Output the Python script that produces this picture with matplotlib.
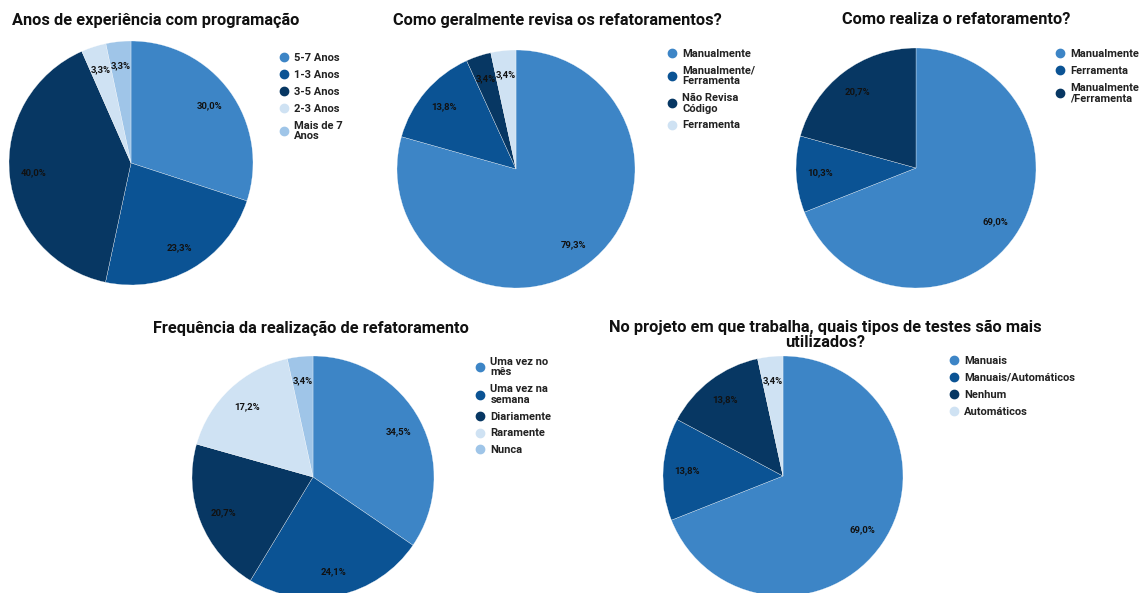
import matplotlib.pyplot as plt
from matplotlib.lines import Line2D

plt.rcParams['font.family'] = ['Roboto', 'DejaVu Sans']

W, H = 1143, 593

# Cores (paleta azul)
c_blue = '#3d85c6'
c_dark2 = '#0b5394'
c_dark3 = '#073763'
c_light3 = '#cfe2f3'
c_light2 = '#9fc5e8'

# 1) Anos de experiência com programação
exp_labels = ['5-7 Anos', '1-3 Anos', '3-5 Anos', '2-3 Anos', 'Mais de 7\nAnos']
exp_values = [30.0, 23.3, 40.0, 3.3, 3.3]
exp_colors = [c_blue, c_dark2, c_dark3, c_light3, c_light2]

# 2) Como geralmente revisa os refatoramentos?
rev_labels = ['Manualmente', 'Manualmente/\nFerramenta', 'Não Revisa\nCódigo', 'Ferramenta']
rev_values = [79.3, 13.8, 3.4, 3.4]
rev_colors = [c_blue, c_dark2, c_dark3, c_light3]

# 3) Como realiza o refatoramento?
real_labels = ['Manualmente', 'Ferramenta', 'Manualmente\n/Ferramenta']
real_values = [69.0, 10.3, 20.7]
real_colors = [c_blue, c_dark2, c_dark3]

# 4) Frequência da realização de refatoramento
freq_labels = ['Uma vez no\nmês', 'Uma vez na\nsemana', 'Diariamente', 'Raramente', 'Nunca']
freq_values = [34.5, 24.1, 20.7, 17.2, 3.4]
freq_colors = [c_blue, c_dark2, c_dark3, c_light3, c_light2]

# 5) Tipos de testes
test_labels = ['Manuais', 'Manuais/Automáticos', 'Nenhum', 'Automáticos']
test_values = [69.0, 13.8, 13.8, 3.4]
test_colors = [c_blue, c_dark2, c_dark3, c_light3]

fig = plt.figure(figsize=(W / 100, H / 100), dpi=100)


def draw_pie(values, labels, colors, cx, cy, r, title, tx, ty, lx, ly):
    ax = fig.add_axes([(cx - r) / W, 1 - (cy + r) / H, 2 * r / W, 2 * r / H])
    it = iter(values)
    ax.pie(values, colors=colors, startangle=90, counterclock=False,
           autopct=lambda p: f'{next(it):.1f}%'.replace('.', ','),
           pctdistance=0.8,
           textprops=dict(fontsize=6.8, fontweight='bold', color='#111111'),
           wedgeprops=dict(edgecolor='white', linewidth=0.2))
    ax.set_xlim(-1, 1)
    ax.set_ylim(-1, 1)
    fig.text(tx / W, 1 - ty / H, title, ha='center', va='center',
             fontsize=11.8, fontweight='bold', color='#111111', linespacing=1.0)
    handles = [Line2D([], [], marker='o', linestyle='', color=c, markersize=6)
               for c in colors]
    leg = fig.legend(handles, labels, loc='upper left',
                     bbox_to_anchor=(lx / W, 1 - ly / H), frameon=False,
                     prop=dict(size=8, weight='bold'), handlelength=0.8,
                     handletextpad=0.5, labelspacing=0.62, borderpad=0,
                     borderaxespad=0)
    for t in leg.get_texts():
        t.set_linespacing(1.05)
        t.set_color('#222222')


draw_pie(exp_values, exp_labels, exp_colors, 131, 163, 122,
         'Anos de experiência com programação', 156, 20, 280, 53)
draw_pie(rev_values, rev_labels, rev_colors, 516, 169, 119,
         'Como geralmente revisa os refatoramentos?', 557, 20, 668, 49)
draw_pie(real_values, real_labels, real_colors, 916, 168, 120,
         'Como realiza o refatoramento?', 956, 20, 1056, 49)
draw_pie(freq_values, freq_labels, freq_colors, 313, 477, 121,
         'Frequência da realização de refatoramento', 311, 328, 476, 357)
draw_pie(test_values, test_labels, test_colors, 783, 476, 120,
         'No projeto em que trabalha, quais tipos de testes são mais\nutilizados?',
         825, 335, 950, 356)

fig.savefig('out.png', dpi=100)
